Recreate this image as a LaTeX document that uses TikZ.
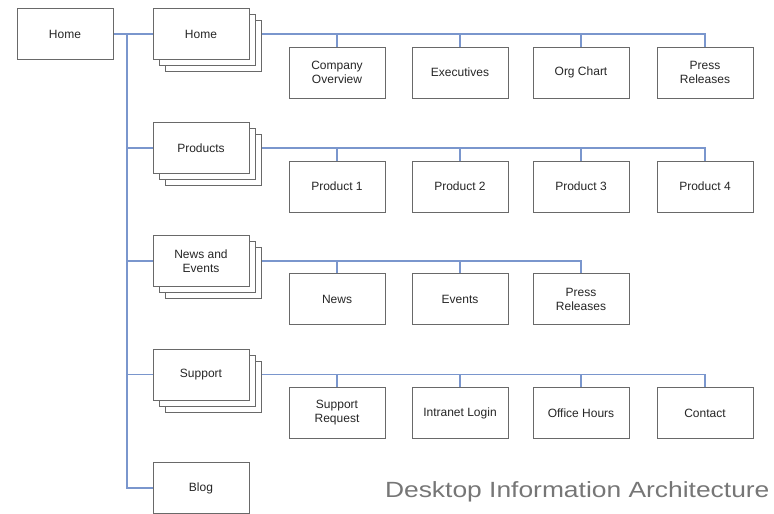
\documentclass[tikz,border=0pt]{standalone}
\usepackage{fontspec}
\setmainfont{Liberation Sans}
\usetikzlibrary{backgrounds, shadows}

\definecolor{linkblue}{RGB}{122,150,205}
\definecolor{boxgrey}{RGB}{105,105,105}
\definecolor{textgrey}{RGB}{118,118,118}

\begin{document}
\begin{tikzpicture}[x=1pt, y=-1pt,
    page/.style={draw=boxgrey, fill=white, line width=0.8pt, minimum width=96pt, minimum height=51pt,
                 inner sep=0pt, align=center, text=black!85, font=\fontsize{12}{14}\selectfont},
    stack/.style={page,
                 copy shadow={shadow xshift=12pt, shadow yshift=-12pt, draw=boxgrey, fill=white, line width=0.8pt},
                 copy shadow={shadow xshift=6pt, shadow yshift=-6pt, draw=boxgrey, fill=white, line width=0.8pt}},
    link/.style={draw=linkblue, line width=1.2pt}
    ]
            \useasboundingbox (0,0) rectangle (774,514);

            % top level
            \node[page] (root) at (65, 34) {Home};

            % second level
            \node[stack] (home) at (201, 34) {Home};
            \node[stack] (products) at (201, 148) {Products};
            \node[stack] (news) at (201, 261) {News and\\Events};
            \node[stack] (support) at (201, 374.5) {Support};
            \node[page] (blog) at (201, 488) {Blog};

            % third level
            \node[page] (overview) at (337, 72.5) {Company\\Overview};
            \node[page] (execs) at (460, 72.5) {Executives};
            \node[page] (orgchart) at (581, 72.5) {Org Chart};
            \node[page] (press) at (705, 72.5) {Press\\Releases};

            \node[page] (prod1) at (337, 186.5) {Product 1};
            \node[page] (prod2) at (460, 186.5) {Product 2};
            \node[page] (prod3) at (581, 186.5) {Product 3};
            \node[page] (prod4) at (705, 186.5) {Product 4};

            \node[page] (newsitem) at (337, 299) {News};
            \node[page] (events) at (460, 299) {Events};
            \node[page] (newspress) at (581, 299) {Press\\Releases};

            \node[page] (request) at (337, 413) {Support\\Request};
            \node[page] (intranet) at (460, 413) {Intranet Login};
            \node[page] (hours) at (581, 413) {Office Hours};
            \node[page] (contact) at (705, 413) {Contact};

            \node[anchor=base east, text=textgrey, font=\fontsize{22}{22}\selectfont] (title) at (773, 497)
                {\scalebox{1.2}[1]{Desktop Information Architecture}};

            \begin{scope}[on background layer]
                \coordinate (trunk) at (127, 34);
                \draw[link] (root.east) -- (trunk) |- (blog.west);
                \draw[link] (trunk) -- (home.west);
                \draw[link] (products.west -| trunk) -- (products.west);
                \draw[link] (news.west -| trunk) -- (news.west);
                \draw[link] (support.west -| trunk) -- (support.west);

                \draw[link] (home.east) -| (press.north);
                \draw[link] (overview.north) -- (overview.north |- home.east);
                \draw[link] (execs.north) -- (execs.north |- home.east);
                \draw[link] (orgchart.north) -- (orgchart.north |- home.east);

                \draw[link] (products.east) -| (prod4.north);
                \draw[link] (prod1.north) -- (prod1.north |- products.east);
                \draw[link] (prod2.north) -- (prod2.north |- products.east);
                \draw[link] (prod3.north) -- (prod3.north |- products.east);

                \draw[link] (news.east) -| (newspress.north);
                \draw[link] (newsitem.north) -- (newsitem.north |- news.east);
                \draw[link] (events.north) -- (events.north |- news.east);

                \draw[link] (support.east) -| (contact.north);
                \draw[link] (request.north) -- (request.north |- support.east);
                \draw[link] (intranet.north) -- (intranet.north |- support.east);
                \draw[link] (hours.north) -- (hours.north |- support.east);
            \end{scope}
        \end{tikzpicture}
\end{document}
